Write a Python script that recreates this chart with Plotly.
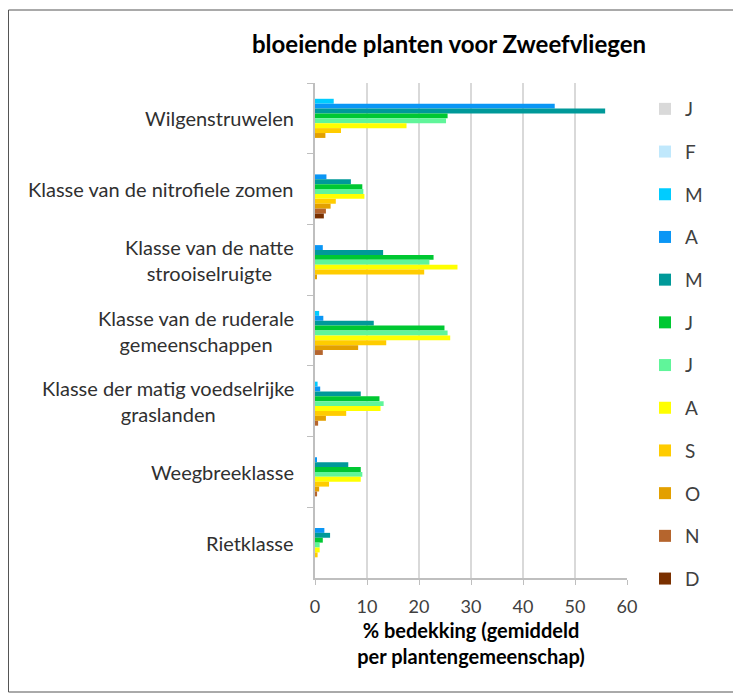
import plotly.graph_objects as go

categories = [
    "Wilgenstruwelen",
    "Klasse van de nitrofiele zomen",
    "Klasse van de natte<br>strooiselruigte",
    "Klasse van de ruderale<br>gemeenschappen",
    "Klasse der matig voedselrijke<br>graslanden",
    "Weegbreeklasse",
    "Rietklasse",
]

months = ["J", "F", "M", "A", "M", "J", "J", "A", "S", "O", "N", "D"]

# values per month, in category order above
jan = [0, 0, 0, 0, 0, 0, 0]
feb = [0, 0, 0, 0, 0, 0, 0]
mar = [3.6, 0, 0, 0.8, 0.5, 0, 0]
apr = [46.1, 2.2, 1.5, 1.6, 1.0, 0.2, 1.8]
may = [55.8, 6.9, 13.1, 11.3, 8.8, 6.4, 2.9]
jun = [25.5, 9.1, 22.8, 24.9, 12.4, 8.8, 1.5]
jul = [25.2, 9.3, 22.0, 25.5, 13.2, 9.1, 0.9]
aug = [17.6, 9.5, 27.4, 26.0, 12.6, 8.8, 0.9]
sep = [5.0, 4.0, 21.0, 13.7, 6.0, 2.7, 0.5]
oct_ = [2.0, 3.0, 0.3, 8.3, 2.1, 0.8, 0]
nov = [0, 2.1, 0, 1.5, 0.6, 0.4, 0]
dec = [0, 1.7, 0, 0, 0, 0, 0]

series = [jan, feb, mar, apr, may, jun, jul, aug, sep, oct_, nov, dec]
colors = ["#D9D9D9", "#C0E8FC", "#00CCFF", "#0A96F5", "#009999", "#00C832",
          "#60F59A", "#FFFF00", "#FFCC00", "#E3A000", "#B5652D", "#7A3000"]

x_ticks = [0, 10, 20, 30, 40, 50, 60]

FONT = "Lato"

fig = go.Figure()
for i, (m, vals, c) in enumerate(zip(months, series, colors)):
    fig.add_trace(go.Bar(
        y=categories, x=vals, name=m, orientation="h",
        marker=dict(color=c, line=dict(width=0)),
        legendgroup="g%d" % i,
    ))

# the page has an 8px body margin; figure coordinates start at page (8, 8)
W, H = 733, 687
L, R, T, B = 307, 114, 75, 117
pw, ph = W - L - R, H - T - B

def px_x(p):
    return (p - L) / pw

def px_y(p):
    return (H - B - p) / ph

annotations = []
for cat in categories:
    annotations.append(dict(
        x=px_x(288), xref="paper", y=cat, yref="y",
        text=cat, showarrow=False, xanchor="right", yanchor="middle",
        align="center", font=dict(family=FONT, size=20, color="#303030"),
    ))

fig.update_layout(
    width=W, height=H,
    margin=dict(l=L, r=R, t=T, b=B),
    paper_bgcolor="white", plot_bgcolor="white",
    barmode="group", bargap=0.17, bargroupgap=0,
    font=dict(family=FONT, size=17, color="#404040"),
    title=dict(text="<b>bloeiende planten voor Zweefvliegen</b>",
               x=441 / W, xref="container", xanchor="center",
               y=1 - 37 / H, yref="container", yanchor="middle",
               font=dict(family=FONT, size=24, color="#000000")),
    xaxis=dict(range=[0, 60], tickvals=x_ticks, showgrid=True,
               gridcolor="#D9D9D9", gridwidth=2, zeroline=False,
               showline=True, linecolor="#BFBFBF", linewidth=2,
               ticks="outside", ticklen=5, tickcolor="#BFBFBF",
               ticklabelstandoff=6,
               tickfont=dict(family=FONT, size=18, color="#404040"),
               title=dict(text="<b>% bedekking (gemiddeld<br>per plantengemeenschap)</b>",
                          font=dict(family=FONT, size=20, color="#000000"),
                          standoff=8)),
    yaxis=dict(categoryorder="array", categoryarray=categories,
               autorange="reversed", showticklabels=False,
               showline=True, linecolor="#BFBFBF", linewidth=2,
               ticks="outside", ticklen=6, tickcolor="#BFBFBF",
               tickson="boundaries", showgrid=False, zeroline=False),
    legend=dict(x=px_x(637), xanchor="left", y=px_y(82), yanchor="top",
                tracegroupgap=15, itemwidth=30, maxheight=620,
                font=dict(family=FONT, size=19, color="#404040"),
                bgcolor="rgba(0,0,0,0)"),
    annotations=annotations,
    shapes=[dict(type="rect", xref="paper", yref="paper",
                 x0=px_x(0.5), x1=px_x(730), y0=px_y(684), y1=px_y(2),
                 line=dict(color="#555555", width=1), fillcolor="rgba(0,0,0,0)",
                 layer="below")],
)

fig.write_html("out.html")
